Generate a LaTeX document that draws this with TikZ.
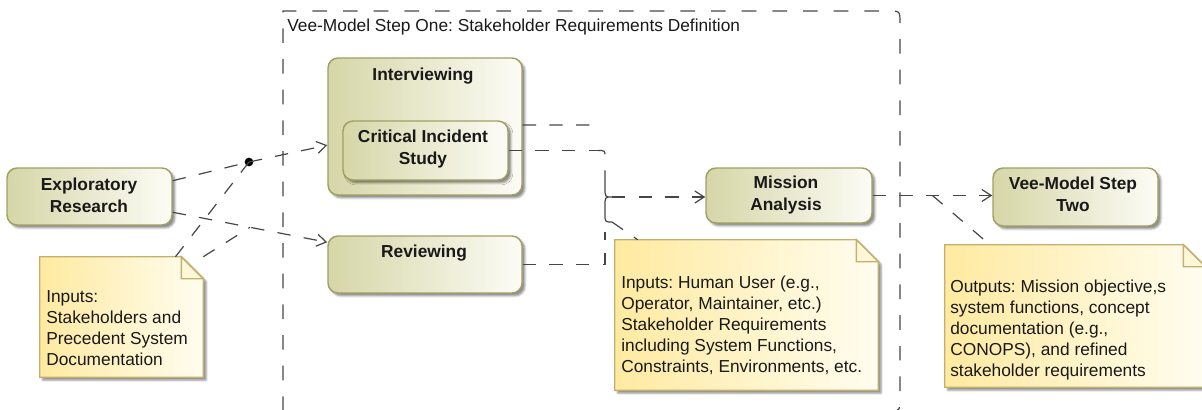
\documentclass[tikz,border=0pt]{standalone}
\usepackage{fontspec}
\setmainfont{Liberation Sans}
\frenchspacing
\usetikzlibrary{calc,arrows.meta,shadows.blur}

\definecolor{linec}{RGB}{70,70,70}
\definecolor{actborder}{RGB}{160,160,100}
\definecolor{actleft}{RGB}{214,214,168}
\definecolor{actright}{RGB}{252,252,246}
\definecolor{noteborder}{RGB}{196,176,110}
\definecolor{noteleft}{RGB}{255,234,160}
\definecolor{noteright}{RGB}{255,253,240}
\definecolor{txt}{RGB}{25,25,25}

\begin{document}
\begin{tikzpicture}[x=0.75pt,y=-0.75pt,
  wh/.style 2 args={minimum width=#1*0.75pt, minimum height=#2*0.75pt},
  softshadow/.style={blur shadow={shadow xshift=2.2pt, shadow yshift=-2.2pt,
      shadow blur radius=1.5pt, shadow opacity=45}},
  action/.style={draw=actborder, line width=1.1pt, rounded corners=7.5pt,
      left color=actleft, right color=actright, softshadow, inner sep=0pt},
  notebox/.style={draw=none, inner sep=0pt},
  notepaint/.style={draw=noteborder, line width=1.1pt,
      left color=noteleft, right color=noteright, softshadow},
  actlabel/.style={font=\bfseries\fontsize{13}{16.5}\selectfont, align=center,
      text=txt, inner sep=0pt},
  notelabel/.style={font=\fontsize{13}{15.8}\selectfont, align=left,
      anchor=west, text=txt, inner sep=0pt},
  flow/.style={draw=linec, line width=0.9pt, dash pattern=on 10pt off 10pt},
  arr/.style={-{Straight Barb[length=7pt,width=9pt]}},
  frameline/.style={draw=linec, line width=0.9pt, dash pattern=on 11pt off 12pt}
]
\useasboundingbox (0,0) rectangle (1202,410);

% activity region of step one
\draw[frameline] (283,411) -- (283,11) -- (888,11) .. controls (900,11) .. (900,23)
  -- (900,398) .. controls (900,411) .. (888,411) -- (283,411);
\node[anchor=west, font=\fontsize{13}{15.8}\selectfont, text=txt, inner sep=0pt]
  (ftitle) at (287,27) {Vee-Model Step One: Stakeholder Requirements Definition};

% comment boxes
\node[notebox, wh={163}{120}] (n1) at (121.5,317) {};
\node[notebox, wh={263}{150}] (n2) at (746.5,315) {};
\node[notebox, wh={260}{142}] (n3) at (1075,316) {};
\foreach \n in {n1,n2,n3}{
  \path[notepaint] (\n.south west) -- (\n.north west) -- ([xshift=-16.5pt]\n.north east)
    -- ([yshift=-16.5pt]\n.north east) -- (\n.south east) -- cycle;
  \draw[noteborder, line width=1.1pt, fill=noteright!70!noteleft]
    ([xshift=-16.5pt]\n.north east) -- ([xshift=-16.5pt,yshift=-16.5pt]\n.north east)
    -- ([yshift=-16.5pt]\n.north east) -- cycle;
}

% actions
\node[action, wh={165}{57}] (er) at (89.5,196.5) {};
\node[action, wh={194}{137}] (int) at (425,126.5) {};
\node[action, wh={165}{59}] (cis) at (425.5,150.5) {};
\node[action, wh={194}{57}] (rev) at (425,264.5) {};
\node[action, wh={166}{55}] (ma) at (789,195.5) {};
\node[action, wh={165}{58}] (vms) at (1075.5,197) {};

\node[actlabel] (er-t) at (89,195) {Exploratory\\Research};
\node[actlabel] (int-t) at (423,76) {Interviewing};
\node[actlabel] (cis-t) at (423,149) {Critical Incident\\Study};
\node[actlabel] (rev-t) at (424,253) {Reviewing};
\node[actlabel] (ma-t) at (786,195) {Mission\\Analysis};
\node[actlabel] (vms-t) at (1073,194) {Vee-Model Step\\Two};

\node[notelabel] (n1-t) at (46,328) {Inputs:\\Stakeholders and\\Precedent System\\Documentation};
\node[notelabel] (n2-t) at (621,325) {Inputs: Human User (e.g.,\\Operator, Maintainer, etc.)\\Stakeholder Requirements\\including System Functions,\\Constraints, Environments, etc.};
\node[notelabel] (n3-t) at (950,330) {Outputs: Mission objective,s\\system functions, concept\\documentation (e.g.,\\CONOPS), and refined\\stakeholder requirements};

% flows
\node[circle, fill=black, inner sep=0pt, minimum size=6.5pt] (dot) at (249,162) {};
\draw[flow] ($(er.north east)!0.23!(er.south east)$) -- (dot.center);
\draw[flow, arr] (dot.center) -- ($(int.north west)!0.635!(int.south west)$);
\draw[flow, arr] ($(er.north east)!0.77!(er.south east)$) -- coordinate (m1)
  ($(rev.north west)!0.12!(rev.south west)$);
\draw[flow] ($(n1.north west)!0.83!(n1.north east)$) -- (dot.center);
\draw[flow] (n1.north east) -- (m1);

\coordinate (j1) at (597,125);
\coordinate (bt) at (598,150.5);
\coordinate (bp) at (612,197);
\coordinate (bb) at (612,222);
\draw[flow] ($(int.north east)!0.489!(int.south east)$) -- (j1);
\draw[flow] (cis.east) -- (bt);
% joining brace
\draw[flow, dash pattern=on 7pt off 12pt on 80pt off 10pt]
  (bt) .. controls (605,150.5) .. (605,157) -- (605,188) .. controls (605,197) .. (bp)
  .. controls (605,197) .. (605,206) -- (605,214) .. controls (605,222) .. (bb);
\draw[flow] (rev.east) -- (605,264.5) -- (605,232);
\draw[flow, arr] (bp) -- (bp -| ma.west);
\draw[flow] (bb) -- ($(n2.north west)!0.087!(n2.north east)$);
\draw[flow, arr] (ma.east) -- coordinate (m3) (ma.east -| vms.west);
\draw[flow] (m3) -- ($(n3.north west)!0.173!(n3.north east)$);
\end{tikzpicture}
\end{document}
